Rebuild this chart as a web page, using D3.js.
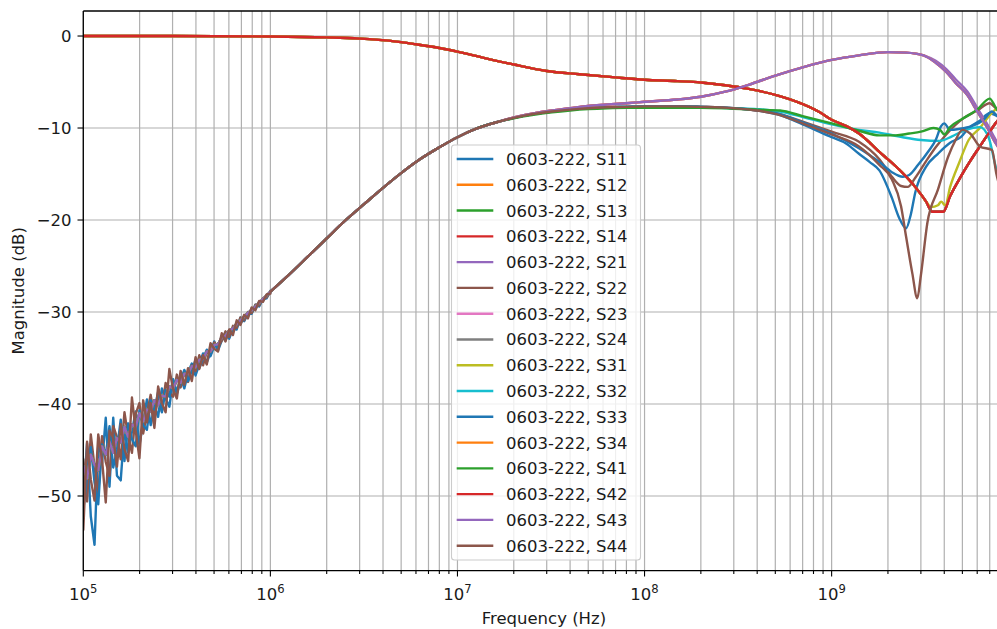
<!DOCTYPE html>
<html>
<head>
<meta charset="utf-8">
<script src="https://cdn.jsdelivr.net/npm/d3@7"></script>
<style>
  body { margin: 0; background: #fff; }
  text { font-family: "DejaVu Sans", sans-serif; fill: #1a1a1a; }
</style>
</head>
<body>
<div id="chart"></div>
<script>
// ---- data ----
const portNames = ['S11','S12','S13','S14','S21','S22','S23','S24',
                   'S31','S32','S33','S34','S41','S42','S43','S44'];
const tab10 = ['#1f77b4','#ff7f0e','#2ca02c','#d62728','#9467bd','#8c564b',
               '#e377c2','#7f7f7f','#bcbd22','#17becf'];

const xTickExps = [5, 6, 7, 8, 9];
const yTicks = [0, -10, -20, -30, -40, -50];

// log10(f) grid of the noisy low-frequency part
const noiseExp = [5.00,5.02,5.04,5.06,5.08,5.10,5.12,5.14,5.16,5.18,
                  5.20,5.22,5.24,5.26,5.28,5.30,5.32,5.34,5.36,5.38,
                  5.40,5.42,5.44,5.46,5.48,5.50,5.52,5.54,5.56,5.58,
                  5.60,5.62,5.64,5.66,5.68,5.70,5.72,5.74,5.76,5.78,
                  5.80,5.82,5.84,5.86,5.88,5.90,5.92,5.94,5.96,5.98,6.00];

const noiseS11 = [-50.0,-44.3,-52.2,-55.3,-44.4,-46.5,-41.5,-49.0,-41.5,-47.8,
                  -48.3,-42.7,-45.3,-43.0,-40.8,-44.5,-42.0,-39.5,-42.3,-40.2,
                  -41.4,-38.3,-39.4,-40.3,-37.4,-38.7,-37.1,-38.3,-36.6,-35.6,
                  -36.9,-35.7,-34.5,-35.5,-34.4,-33.2,-34.2,-33.1,-32.2,-32.9,
                  -31.8,-31.9,-30.6,-31.0,-30.2,-30.2,-29.2,-29.4,-28.6,-28.5,-27.7];
const noiseS33 = [-51.5,-47.9,-44.7,-48.5,-50.9,-44.4,-45.5,-42.4,-46.9,-45.0,
                  -41.7,-46.2,-42.1,-43.8,-44.6,-40.7,-42.3,-42.8,-39.6,-40.6,
                  -38.7,-40.9,-38.5,-39.2,-37.3,-38.9,-37.5,-36.3,-37.5,-36.4,
                  -35.2,-36.1,-35.1,-34.1,-34.8,-33.7,-33.8,-32.6,-33.1,-32.0,
                  -32.1,-31.1,-31.3,-30.5,-30.4,-29.6,-29.7,-28.9,-28.8,-28.2,-27.9];
const noiseS22 = [-46.0,-50.6,-43.3,-46.8,-49.8,-43.5,-46.3,-47.8,-42.4,-43.6,
                  -46.0,-40.9,-43.6,-45.3,-41.1,-39.9,-43.2,-41.1,-39.0,-41.5,
                  -39.3,-40.8,-37.7,-38.8,-39.2,-36.8,-38.2,-36.4,-37.6,-35.8,
                  -36.4,-34.7,-35.8,-34.3,-34.7,-33.3,-33.8,-33.1,-32.1,-32.7,
                  -31.5,-31.7,-30.6,-30.9,-30.0,-30.1,-29.2,-29.3,-28.5,-28.4,-27.8];
const noiseS44 = [-53.7,-44.1,-48.2,-50.5,-43.3,-46.0,-50.7,-42.9,-43.7,-46.8,
                  -42.2,-44.9,-46.2,-39.3,-42.9,-45.9,-39.6,-42.0,-39.9,-42.6,
                  -38.1,-39.9,-40.9,-36.2,-38.4,-39.4,-36.4,-37.9,-36.1,-37.5,
                  -34.9,-36.2,-34.7,-35.7,-33.4,-34.0,-34.3,-32.3,-33.2,-31.9,
                  -32.5,-30.9,-31.4,-30.3,-30.7,-29.5,-29.8,-28.8,-28.9,-28.1,-28.0];
const noiseMild = [-46.7,-48.1,-45.5,-46.6,-47.2,-44.6,-45.5,-44.1,-45.3,-43.7,
                   -44.2,-42.5,-43.6,-42.2,-42.5,-41.0,-41.9,-40.6,-40.8,-39.6,
                   -40.1,-39.1,-39.2,-38.1,-38.3,-37.4,-37.7,-36.7,-36.7,-35.9,
                   -36.0,-35.2,-35.1,-34.3,-34.3,-33.6,-33.5,-32.8,-32.6,-32.0,
                   -31.8,-31.3,-30.9,-30.5,-30.1,-29.8,-29.4,-29.0,-28.6,-28.2,-27.8];

// [Hz, dB] pairs for the smooth parts
const risingLow = [[1e6,-27.8],[1.25e6,-26.0],[1.6e6,-23.9],[2e6,-22.0],[2.5e6,-20.1],[3.2e6,-18.2],
                   [4e6,-16.5],[5e6,-14.9],[6.3e6,-13.4],[8e6,-12.1],[1e7,-11.0],
                   [1.25e7,-10.1],[1.6e7,-9.4]];
const plateauMain = [[2e7,-8.9],[2.5e7,-8.5],[3.2e7,-8.2],[4e7,-8.0],[5e7,-7.85],
                     [6.3e7,-7.75],[8e7,-7.7],[1e8,-7.65],[1.6e8,-7.65],[2e8,-7.7],[3e8,-7.85]];
const plateauGreen = [[2e7,-8.95],[2.5e7,-8.6],[3.2e7,-8.3],[4e7,-8.1],[5e7,-7.95],
                      [6.3e7,-7.85],[8e7,-7.8],[1e8,-7.8],[1.6e8,-7.8],[2e8,-7.8],[3e8,-7.9]];
const plateauPurple = [[2e7,-8.85],[2.5e7,-8.45],[3.2e7,-8.1],[4e7,-7.85],[5e7,-7.6],
                       [6.3e7,-7.45],[8e7,-7.3],[1e8,-7.15],[1.5e8,-6.9],[2e8,-6.6],[2.7e8,-6.05]];

const tailBlueDeep = [[4e8,-8.1],[5.3e8,-8.6],[7e8,-9.6],[1e9,-11.0],[1.2e9,-11.7],[1.4e9,-12.8],
                      [1.6e9,-13.7],[1.8e9,-14.6],[2.1e9,-17.6],[2.3e9,-19.8],[2.5e9,-20.9],
                      [2.65e9,-19.4],[2.8e9,-17.0],[3.2e9,-14.2],[3.7e9,-12.8],[4.3e9,-11.6],
                      [4.9e9,-11.0],[5.4e9,-10.0],[6.2e9,-9.2],[7e9,-8.4],[7.5e9,-8.6],[8.5e9,-9.5]];
const tailBlueShallow = [[4e8,-8.05],[5.3e8,-8.5],[7e8,-9.4],[1e9,-10.6],[1.4e9,-12.2],[1.8e9,-13.7],
                         [2.1e9,-14.8],[2.4e9,-15.3],[2.6e9,-15.1],[2.9e9,-14.0],[3.3e9,-12.5],
                         [3.6e9,-11.3],[3.85e9,-9.8],[4.0e9,-9.5],[4.3e9,-10.2],[4.8e9,-10.1],
                         [5.6e9,-9.8],[6.5e9,-9.1],[7.2e9,-8.2],[7.6e9,-8.6],[8.5e9,-9.5]];
const tailBrownDeep = [[4e8,-8.1],[5.3e8,-8.6],[7e8,-9.5],[1e9,-10.7],[1.4e9,-12.0],[1.8e9,-14.0],
                       [2.1e9,-15.6],[2.35e9,-18.5],[2.5e9,-21.8],[2.7e9,-25.8],[2.87e9,-28.5],
                       [3.0e9,-26.0],[3.25e9,-20.3],[3.7e9,-16.7],[4.2e9,-13.1],[4.6e9,-11.3],
                       [5.0e9,-10.2],[5.5e9,-10.6],[6.2e9,-12.0],[7.2e9,-12.4],[7.6e9,-15.0],[8.5e9,-18.0]];
const tailBrownShallow = [[4e8,-8.1],[5.3e8,-8.5],[7e8,-9.3],[1e9,-10.4],[1.4e9,-11.5],[1.8e9,-13.4],
                          [2.1e9,-15.3],[2.35e9,-16.3],[2.55e9,-16.4],[2.8e9,-15.4],[3.2e9,-13.6],
                          [3.6e9,-12.1],[4.1e9,-10.7],[5.1e9,-8.9],[6.0e9,-8.1],[7.0e9,-7.3],
                          [7.5e9,-7.8],[8.5e9,-9.0]];
const tailCyan = [[4e8,-7.95],[5.3e8,-8.2],[7e8,-8.8],[1e9,-9.6],[1.4e9,-10.2],[1.8e9,-10.5],
                  [2.4e9,-11.0],[3.0e9,-11.3],[3.8e9,-11.4],[4.4e9,-10.9],[5.2e9,-10.2],
                  [6.2e9,-9.9],[6.9e9,-11.0],[7.6e9,-14.5],[8.5e9,-17.0]];
const tailGreen = [[4e8,-8.0],[5.3e8,-8.1],[7e8,-8.7],[1e9,-9.5],[1.4e9,-10.3],[1.8e9,-10.8],
                   [2.2e9,-10.8],[2.6e9,-10.6],[3.0e9,-10.4],[3.5e9,-10.0],[3.8e9,-10.2],
                   [4.0e9,-10.7],[4.3e9,-9.9],[5.0e9,-9.0],[6.0e9,-8.0],[7.0e9,-6.8],
                   [7.5e9,-7.7],[8.5e9,-9.5]];
const tailPurpleA = [[3.6e8,-5.3],[5e8,-4.3],[7e8,-3.4],[1e9,-2.6],[1.4e9,-2.1],[2.0e9,-1.75],
                     [2.5e9,-1.8],[3.1e9,-2.1],[3.6e9,-2.7],[4.1e9,-3.6],[4.6e9,-4.7],[5.3e9,-6.0],
                     [6e9,-7.8],[6.8e9,-9.6],[7.5e9,-11.2],[8.5e9,-12.8]];
const tailPurpleB = [[3.6e8,-5.3],[5e8,-4.3],[7e8,-3.4],[1e9,-2.6],[1.4e9,-2.1],[2.0e9,-1.75],
                     [2.5e9,-1.8],[3.1e9,-2.1],[3.6e9,-2.9],[4.1e9,-3.9],[4.6e9,-5.1],[5.3e9,-6.4],
                     [6e9,-8.2],[6.8e9,-10.0],[7.5e9,-11.6],[8.5e9,-13.2]];

const thruMain = [[1e5,0],[3e5,0],[1e6,-0.05],[2e6,-0.15],[3e6,-0.28],[4.5e6,-0.55],[6e6,-0.9],
                  [8e6,-1.3],[1e7,-1.7],[1.4e7,-2.4],[2e7,-3.1],[3e7,-3.8],[4.5e7,-4.15],[7e7,-4.5],
                  [1e8,-4.75],[1.5e8,-4.9],[2e8,-5.05],[2.7e8,-5.35],[3.6e8,-5.75],[5e8,-6.4],
                  [6.8e8,-7.3],[8.5e8,-8.2],[1e9,-9.1],[1.2e9,-9.8],[1.4e9,-10.6],[1.6e9,-11.6],
                  [1.8e9,-12.6],[2.0e9,-13.4],[2.4e9,-14.9],[2.8e9,-16.4],[3.2e9,-18.0]];
const tailRed = [[3.45e9,-19.1],[3.95e9,-19.1],[4.3e9,-17.4],[4.8e9,-15.6],[5.5e9,-13.6],
                 [6.2e9,-12.0],[7.0e9,-10.4],[7.5e9,-9.5],[8.5e9,-8.3]];
const tailOlive = [[3.4e9,-18.6],[3.7e9,-18.4],[3.85e9,-18.0],[4.05e9,-18.4],[4.3e9,-16.4],
                   [4.8e9,-13.8],[5.4e9,-11.3],[6.2e9,-10.0],[7e9,-8.6],[7.5e9,-8.0],[8.5e9,-7.2]];

const noisy = (vals) => d3.zip(noiseExp, vals).map(([e, v]) => [Math.pow(10, e), v]);

// jagged low-frequency part (straight segments) and smooth remainder of each trace
const seriesNoise = {
  S11: noiseS11, S21: noiseMild, S22: noiseS22, S23: noiseMild, S32: noiseMild,
  S33: noiseS33, S34: noiseMild, S41: noiseMild, S43: noiseMild, S44: noiseS44
};
const seriesSmooth = {
  S11: [...risingLow, ...plateauMain, ...tailBlueDeep],
  S12: [...thruMain, ...tailRed],
  S13: [...thruMain, ...tailRed],
  S14: [...thruMain, ...tailRed],
  S21: [...risingLow, ...plateauPurple, ...tailPurpleA],
  S22: [...risingLow, ...plateauMain, ...tailBrownShallow],
  S23: [...risingLow, ...plateauPurple, ...tailPurpleB],
  S24: [...thruMain, ...tailRed],
  S31: [...thruMain, ...tailOlive],
  S32: [...risingLow, ...plateauMain, ...tailCyan],
  S33: [...risingLow, ...plateauMain, ...tailBlueShallow],
  S34: [...risingLow, ...plateauPurple, ...tailPurpleB],
  S41: [...risingLow, ...plateauGreen, ...tailGreen],
  S42: [...thruMain, ...tailRed],
  S43: [...risingLow, ...plateauPurple, ...tailPurpleB],
  S44: [...risingLow, ...plateauMain, ...tailBrownDeep]
};

// ---- layout ----
const width = 997;
const height = 629;
const plotL = 83.3, plotR = 1005.5, plotT = 11, plotB = 570.7;

const svg = d3.select('#chart')
    .append('svg')
    .attr('width', width)
    .attr('height', height);

const xScale = d3.scaleLog().domain([1e5, 8.5e9]).range([plotL, plotR]);
const yScale = d3.scaleLinear().domain([-58.12, 2.72]).range([plotB, plotT]);

svg.append('defs').append('clipPath').attr('id', 'plotclip')
    .append('rect')
    .attr('x', plotL).attr('y', plotT)
    .attr('width', plotR - plotL).attr('height', plotB - plotT);

// grid
const grid = svg.append('g');
grid.selectAll('.vgrid')
    .data(xScale.ticks())
    .join('line')
    .attr('x1', d => xScale(d)).attr('x2', d => xScale(d))
    .attr('y1', plotT).attr('y2', plotB)
    .attr('stroke', '#b0b0b0').attr('stroke-width', 1.2);
grid.selectAll('.hgrid')
    .data(yTicks)
    .join('line')
    .attr('x1', plotL).attr('x2', plotR)
    .attr('y1', d => yScale(d)).attr('y2', d => yScale(d))
    .attr('stroke', '#b0b0b0').attr('stroke-width', 1.2);

// traces
const smoothLine = d3.line()
    .x(d => xScale(d[0]))
    .y(d => yScale(d[1]))
    .curve(d3.curveMonotoneX);
const jaggedLine = d3.line()
    .x(d => xScale(d[0]))
    .y(d => yScale(d[1]));

const traces = svg.append('g').attr('clip-path', 'url(#plotclip)');
portNames.forEach((name, i) => {
  const g = traces.append('g')
      .attr('fill', 'none')
      .attr('stroke', tab10[i % 10])
      .attr('stroke-width', 2.4)
      .attr('stroke-linejoin', 'round')
      .attr('stroke-linecap', 'round');
  if (seriesNoise[name]) {
    g.append('path').attr('d', jaggedLine(noisy(seriesNoise[name])));
  }
  g.append('path').attr('d', smoothLine(seriesSmooth[name]));
});

// spines
const spines = svg.append('g').attr('stroke', '#000').attr('stroke-width', 1.3);
spines.append('line').attr('x1', plotL).attr('x2', plotL).attr('y1', plotT).attr('y2', plotB);
spines.append('line').attr('x1', plotL).attr('x2', plotR).attr('y1', plotB).attr('y2', plotB);
spines.append('line').attr('x1', plotL).attr('x2', plotR).attr('y1', plotT).attr('y2', plotT);
spines.append('line').attr('x1', plotR).attr('x2', plotR).attr('y1', plotT).attr('y2', plotB);

// ticks
const majorX = xTickExps.map(e => Math.pow(10, e));
const ticks = svg.append('g').attr('stroke', '#000').attr('stroke-width', 1.1);
ticks.selectAll('.xminor')
    .data(xScale.ticks())
    .join('line')
    .attr('x1', d => xScale(d)).attr('x2', d => xScale(d))
    .attr('y1', plotB).attr('y2', d => plotB + (majorX.includes(d) ? 5.8 : 3.3));
ticks.selectAll('.ytick')
    .data(yTicks)
    .join('line')
    .attr('x1', plotL - 5.8).attr('x2', plotL)
    .attr('y1', d => yScale(d)).attr('y2', d => yScale(d));

const xLabels = svg.append('g');
xTickExps.forEach(e => {
  const t = xLabels.append('text')
      .attr('x', xScale(Math.pow(10, e)))
      .attr('y', 600)
      .attr('text-anchor', 'middle')
      .style('font-size', '16.5px');
  t.append('tspan').text('10');
  t.append('tspan').attr('dy', -7).style('font-size', '11.6px').text(e);
});

svg.append('g').selectAll('text')
    .data(yTicks)
    .join('text')
    .attr('x', 71.5)
    .attr('y', d => yScale(d))
    .attr('dy', '0.36em')
    .attr('text-anchor', 'end')
    .style('font-size', '16.5px')
    .text(d => d === 0 ? '0' : '\u2212' + Math.abs(d));

// axis labels
svg.append('text')
    .attr('x', (plotL + plotR) / 2 - 0.5)
    .attr('y', 624)
    .attr('text-anchor', 'middle')
    .style('font-size', '16.5px')
    .text('Frequency (Hz)');

svg.append('text')
    .attr('transform', `translate(18.5, ${(plotT + plotB) / 2}) rotate(-90)`)
    .attr('text-anchor', 'middle')
    .attr('dy', '0.36em')
    .style('font-size', '16.5px')
    .text('Magnitude (dB)');

// legend
const lg = svg.append('g');
lg.append('rect')
    .attr('x', 451.5).attr('y', 145)
    .attr('width', 189).attr('height', 415)
    .attr('rx', 3)
    .attr('fill', '#fff').attr('fill-opacity', 0.8)
    .attr('stroke', '#cccccc').attr('stroke-width', 1.1);
const rows = lg.selectAll('.row')
    .data(portNames)
    .join('g')
    .attr('transform', (d, i) => `translate(0, ${159 + i * 25.78})`);
rows.append('line')
    .attr('x1', 456.7).attr('x2', 493.3)
    .attr('stroke', (d, i) => tab10[i % 10])
    .attr('stroke-width', 2.4);
rows.append('text')
    .attr('x', 506)
    .attr('dy', '0.36em')
    .style('font-size', '16.5px')
    .text(d => `0603-222, ${d}`);
</script>
</body>
</html>
